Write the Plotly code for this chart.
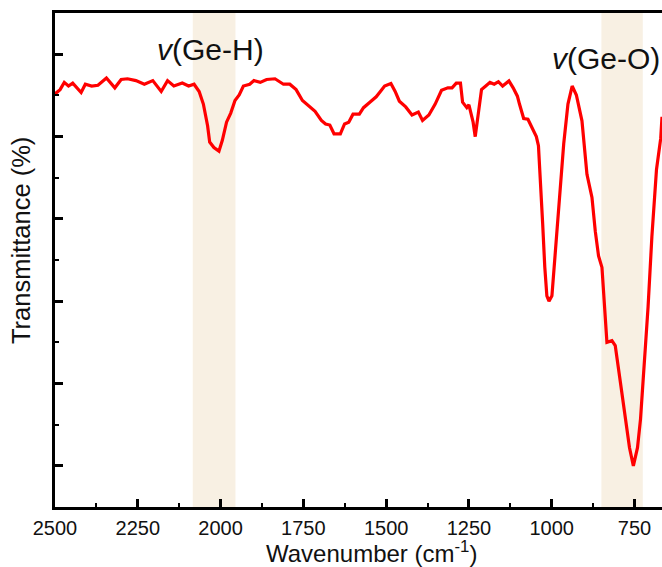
import plotly.graph_objects as go

# Wavenumber (cm^-1) and transmittance (arbitrary %)
wavenumber = [2500.0, 2484.7, 2472.0, 2459.3, 2446.5, 2433.8, 2421.1, 2408.4, 2389.3, 2370.2,
              2344.7, 2319.3, 2300.2, 2281.1, 2255.6, 2230.2, 2204.7, 2179.3, 2160.2, 2141.1,
              2115.6, 2096.5, 2080.0, 2064.7, 2052.0, 2039.2, 2032.9, 2020.1, 2004.9, 1994.7,
              1982.0, 1969.3, 1956.5, 1943.8, 1931.1, 1912.0, 1899.2, 1880.1, 1861.1, 1835.6,
              1810.1, 1791.0, 1771.9, 1752.8, 1733.8, 1714.7, 1695.6, 1682.9, 1670.1, 1657.4,
              1638.3, 1625.6, 1612.9, 1600.1, 1581.0, 1568.3, 1549.2, 1530.1, 1517.4, 1504.7,
              1485.6, 1472.8, 1460.1, 1441.0, 1421.9, 1402.8, 1390.1, 1371.0, 1351.9, 1332.8,
              1313.7, 1301.0, 1288.3, 1275.6, 1269.2, 1256.5, 1250.1, 1237.4, 1231.0, 1224.7,
              1212.0, 1199.2, 1186.5, 1173.7, 1161.0, 1148.3, 1129.2, 1116.5, 1103.7, 1097.4,
              1084.7, 1071.9, 1059.2, 1046.5, 1040.1, 1033.8, 1027.4, 1021.0, 1014.7, 1008.3,
              999.4, 989.2, 976.5, 963.8, 951.0, 938.3, 925.6, 908.7, 893.6, 878.5,
              868.5, 858.6, 848.3, 840.3, 833.3, 818.2, 808.2, 793.2, 778.1, 765.1,
              753.5, 741.0, 731.8, 721.7, 709.0, 697.6, 683.6, 670.8, 667.0]
transmittance = [55.17, 55.69, 56.57, 56.13, 56.49, 55.91, 55.34, 56.35, 56.13, 56.22,
                 57.10, 55.91, 56.92, 57.01, 56.79, 56.35, 56.79, 55.47, 56.79, 56.13,
                 56.49, 56.13, 56.35, 55.47, 53.94, 51.30, 49.32, 48.66, 48.22, 49.54,
                 51.74, 52.84, 54.38, 55.04, 56.13, 56.35, 56.79, 56.57, 56.92, 57.01,
                 56.35, 56.35, 55.69, 54.38, 53.72, 53.06, 51.96, 51.52, 51.39, 50.33,
                 50.33, 51.52, 51.74, 52.71, 52.71, 53.50, 54.16, 54.82, 55.47, 56.13,
                 56.44, 55.47, 54.29, 53.59, 52.62, 52.97, 51.96, 52.62, 53.94, 55.61,
                 55.91, 55.91, 56.49, 56.49, 54.16, 53.50, 53.85, 51.74, 49.98, 51.74,
                 55.69, 56.13, 56.57, 56.35, 56.66, 56.13, 56.75, 55.91, 54.90, 53.94,
                 52.18, 52.09, 51.08, 49.98, 48.88, 44.71, 39.44, 34.17, 30.65, 29.99,
                 30.65, 35.92, 42.95, 49.10, 53.94, 56.13, 55.04, 51.90, 45.40, 42.60,
                 38.50, 35.50, 34.10, 28.45, 25.00, 25.20, 24.60, 20.30, 15.90, 12.20,
                 10.00, 12.20, 15.71, 21.86, 29.33, 37.80, 46.00, 49.80, 52.40]

band_ranges = [(2084, 1955), (850, 725)]
band_labels = ["<i>v</i>(Ge-H)", "<i>v</i>(Ge-O)"]
label_pos = [(2030, 60.6), (835, 59.5)]

xtick_vals = [2500, 2250, 2000, 1750, 1500, 1250, 1000, 750]

FONT = "Liberation Sans, Arial, sans-serif"

fig = go.Figure()
fig.add_trace(go.Scatter(x=wavenumber, y=transmittance, mode="lines",
                         line=dict(color="#ff0000", width=3.2), showlegend=False,
                         hoverinfo="skip"))

for (a, b) in band_ranges:
    fig.add_shape(type="rect", xref="x", yref="paper", x0=a, x1=b, y0=0, y1=1,
                  fillcolor="rgb(248,240,227)", line=dict(width=0), layer="below")

for lab, (lx, ly) in zip(band_labels, label_pos):
    fig.add_annotation(x=lx, y=ly, xref="x", yref="y", text=lab, showarrow=False,
                       font=dict(family=FONT, size=30, color="#111111"))

fig.add_annotation(x=0.522, y=-0.092, xref="paper", yref="paper", yanchor="middle",
                   text="Wavenumber (cm<sup>-1</sup>)", showarrow=False,
                   font=dict(family=FONT, size=24, color="#111111"))
fig.add_annotation(x=-0.03, y=0.54, xref="paper", yref="paper", xanchor="right",
                   yanchor="middle",
                   text="Transmittance (%)", showarrow=False, textangle=-90,
                   font=dict(family=FONT, size=25.5, color="#111111"))

fig.update_layout(
    width=662, height=567,
    margin=dict(l=55, r=0, t=13, b=60),
    plot_bgcolor="white", paper_bgcolor="white",
    font=dict(family=FONT, color="#111111"),
)
fig.update_xaxes(range=[2500, 667], tickvals=xtick_vals,
                 ticks="inside", ticklen=8, tickwidth=2.5, tickcolor="#000",
                 minor=dict(ticks="inside", ticklen=4, tickwidth=2, tickcolor="#000", dtick=125, tick0=2500),
                 showline=True, linewidth=2.5, linecolor="#000", mirror=True,
                 showgrid=False, zeroline=False, ticklabelstandoff=1,
                 tickfont=dict(family=FONT, size=20, color="#111111"))
fig.update_yaxes(range=[5, 65], tickvals=[10, 20, 30, 40, 50, 60], showticklabels=False,
                 ticks="inside", ticklen=8, tickwidth=2.5, tickcolor="#000",
                 minor=dict(ticks="inside", ticklen=4, tickwidth=2, tickcolor="#000", dtick=5, tick0=5),
                 showline=True, linewidth=2.5, linecolor="#000",
                 showgrid=False, zeroline=False)

fig.write_html("out.html")
